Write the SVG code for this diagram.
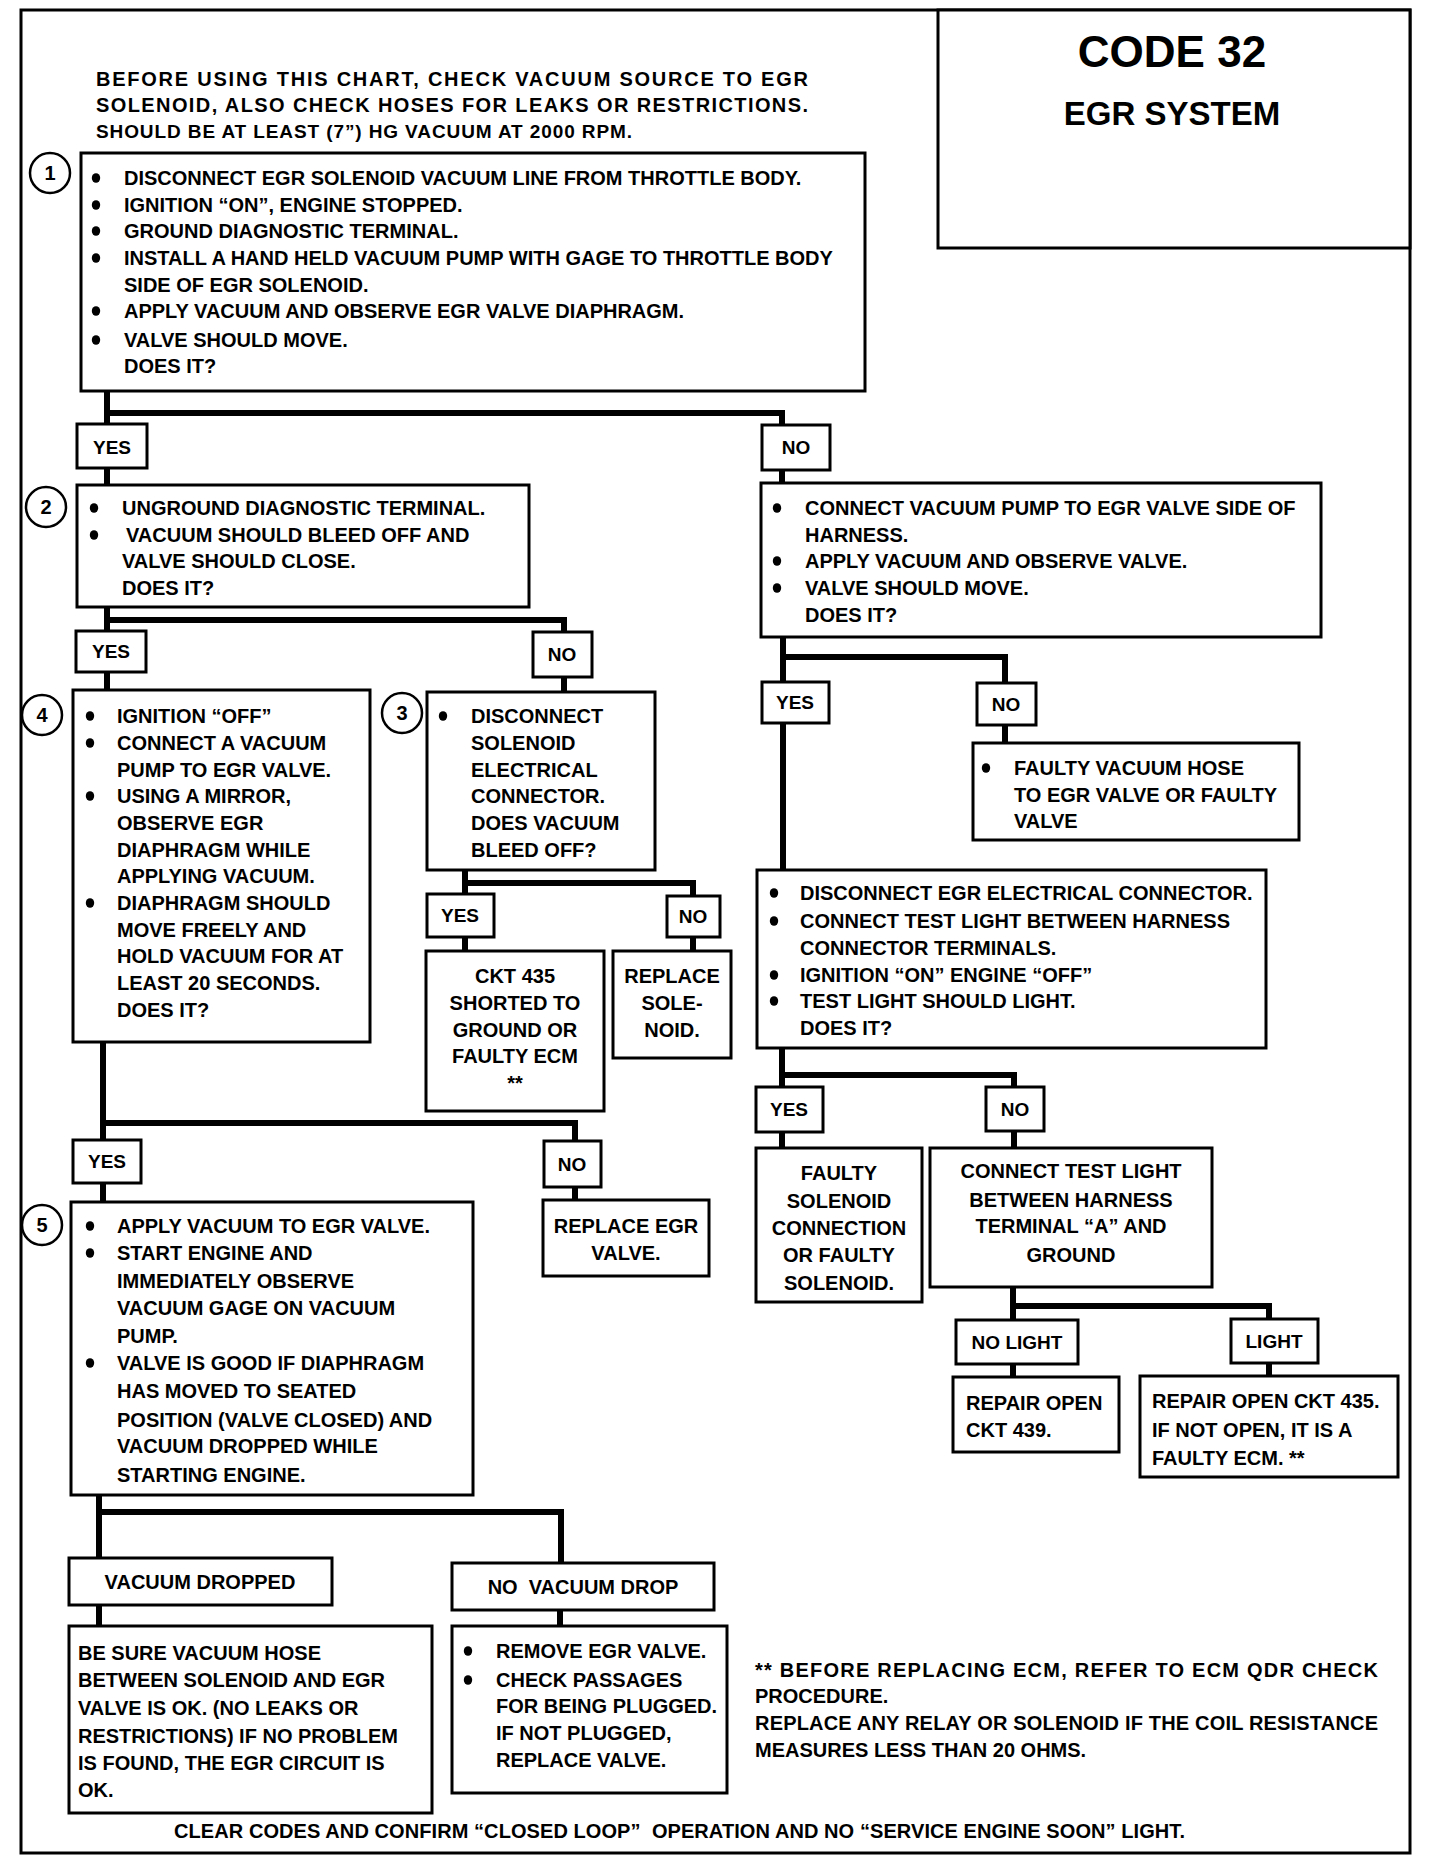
<svg xmlns="http://www.w3.org/2000/svg" width="1440" height="1872" viewBox="0 0 1440 1872">
<style>
text{font-family:"Liberation Sans",Arial,"DejaVu Sans",sans-serif;font-weight:bold;font-size:20px;fill:#000}
.c{text-anchor:middle}
.box{fill:#fff;stroke:#000;stroke-width:3}
.num{fill:#fff;stroke:#000;stroke-width:2.5}
.conn{fill:none;stroke:#000;stroke-width:6}
.lbl{font-size:19px}
</style>
<defs>
<ellipse id="b" rx="4.2" ry="4.8" fill="#000"/>
</defs>
<rect x="0" y="0" width="1440" height="1872" fill="#fff"/>
<rect x="21" y="10" width="1389" height="1843" fill="none" stroke="#000" stroke-width="3"/>

<g id="connectors">
<path class="conn" d="M107 391 V424 M107 413 H782 V425"/>
<path class="conn" d="M107 468 V485 M782 470 V483"/>
<path class="conn" d="M107 607 V631 M107 620 H564 V632"/>
<path class="conn" d="M107 672 V690 M564 677 V692"/>
<path class="conn" d="M783 637 V682 M783 657 H1005 V683"/>
<path class="conn" d="M783 723 V870 M1005 725 V743"/>
<path class="conn" d="M465 870 V894 M465 883 H693 V896"/>
<path class="conn" d="M465 937 V951 M693 937 V951"/>
<path class="conn" d="M103 1042 V1140 M103 1123 H575 V1141"/>
<path class="conn" d="M103 1183 V1202 M575 1187 V1200"/>
<path class="conn" d="M99 1495 V1558 M99 1512 H561 V1563"/>
<path class="conn" d="M99 1605 V1626 M560 1610 V1626"/>
<path class="conn" d="M782 1048 V1087 M782 1075 H1014 V1087"/>
<path class="conn" d="M782 1132 V1148 M1014 1131 V1148"/>
<path class="conn" d="M1013 1287 V1320 M1013 1306 H1269 V1319"/>
<path class="conn" d="M1013 1364 V1377 M1269 1363 V1376"/>
</g>

<g id="title">
<rect class="box" x="938" y="10" width="472" height="238"/>
<text class="c" x="1172" y="67" style="font-size:44px">CODE 32</text>
<text class="c" x="1172" y="125" style="font-size:33px">EGR SYSTEM</text>
</g>

<g id="intro">
<text x="96" y="86" textLength="712">BEFORE USING THIS CHART, CHECK VACUUM SOURCE TO EGR</text>
<text x="96" y="112" textLength="712">SOLENOID, ALSO CHECK HOSES FOR LEAKS OR RESTRICTIONS.</text>
<text x="96" y="138" style="font-size:19px" textLength="536">SHOULD BE AT LEAST (7”) HG VACUUM AT 2000 RPM.</text>
</g>

<g id="step1">
<rect class="box" x="81" y="153" width="784" height="238"/>
<circle class="num" cx="50" cy="173" r="20"/>
<text class="c" x="50" y="180">1</text>
<use href="#b" x="96" y="178"/><text x="124" y="185">DISCONNECT EGR SOLENOID VACUUM LINE FROM THROTTLE BODY.</text>
<use href="#b" x="96" y="205"/><text x="124" y="212">IGNITION “ON”, ENGINE STOPPED.</text>
<use href="#b" x="96" y="231"/><text x="124" y="238">GROUND DIAGNOSTIC TERMINAL.</text>
<use href="#b" x="96" y="258"/><text x="124" y="265">INSTALL A HAND HELD VACUUM PUMP WITH GAGE TO THROTTLE BODY</text>
<text x="124" y="292">SIDE OF EGR SOLENOID.</text>
<use href="#b" x="96" y="311"/><text x="124" y="318">APPLY VACUUM AND OBSERVE EGR VALVE DIAPHRAGM.</text>
<use href="#b" x="96" y="340"/><text x="124" y="347">VALVE SHOULD MOVE.</text>
<text x="124" y="373">DOES IT?</text>
</g>

<g id="yes1"><rect class="box" x="77" y="424" width="70" height="44"/><text class="c lbl" x="112" y="454">YES</text></g>
<g id="no1"><rect class="box" x="762" y="425" width="68" height="45"/><text class="c lbl" x="796" y="454">NO</text></g>

<g id="step2">
<rect class="box" x="77" y="485" width="452" height="122"/>
<circle class="num" cx="46" cy="507" r="20"/>
<text class="c" x="46" y="514">2</text>
<use href="#b" x="94" y="508"/><text x="122" y="515">UNGROUND DIAGNOSTIC TERMINAL.</text>
<use href="#b" x="94" y="535"/><text x="126" y="542">VACUUM SHOULD BLEED OFF AND</text>
<text x="122" y="568">VALVE SHOULD CLOSE.</text>
<text x="122" y="595">DOES IT?</text>
</g>

<g id="stepA">
<rect class="box" x="761" y="483" width="560" height="154"/>
<use href="#b" x="777" y="508"/><text x="805" y="515">CONNECT VACUUM PUMP TO EGR VALVE SIDE OF</text>
<text x="805" y="542">HARNESS.</text>
<use href="#b" x="777" y="561"/><text x="805" y="568">APPLY VACUUM AND OBSERVE VALVE.</text>
<use href="#b" x="777" y="588"/><text x="805" y="595">VALVE SHOULD MOVE.</text>
<text x="805" y="622">DOES IT?</text>
</g>

<g id="yes2"><rect class="box" x="76" y="631" width="70" height="41"/><text class="c lbl" x="111" y="658">YES</text></g>
<g id="no2"><rect class="box" x="533" y="632" width="59" height="45"/><text class="c lbl" x="562" y="661">NO</text></g>
<g id="yesA"><rect class="box" x="762" y="682" width="67" height="41"/><text class="c lbl" x="795" y="709">YES</text></g>
<g id="noA"><rect class="box" x="977" y="683" width="59" height="42"/><text class="c lbl" x="1006" y="711">NO</text></g>

<g id="step4">
<rect class="box" x="73" y="690" width="297" height="352"/>
<circle class="num" cx="42" cy="715" r="20"/>
<text class="c" x="42" y="722">4</text>
<use href="#b" x="90" y="716"/><text x="117" y="723">IGNITION “OFF”</text>
<use href="#b" x="90" y="743"/><text x="117" y="750">CONNECT A VACUUM</text>
<text x="117" y="777">PUMP TO EGR VALVE.</text>
<use href="#b" x="90" y="796"/><text x="117" y="803">USING A MIRROR,</text>
<text x="117" y="830">OBSERVE EGR</text>
<text x="117" y="857">DIAPHRAGM WHILE</text>
<text x="117" y="883">APPLYING VACUUM.</text>
<use href="#b" x="90" y="903"/><text x="117" y="910">DIAPHRAGM SHOULD</text>
<text x="117" y="937">MOVE FREELY AND</text>
<text x="117" y="963">HOLD VACUUM FOR AT</text>
<text x="117" y="990">LEAST 20 SECONDS.</text>
<text x="117" y="1017">DOES IT?</text>
</g>

<g id="step3">
<rect class="box" x="427" y="692" width="228" height="178"/>
<circle class="num" cx="402" cy="713" r="20"/>
<text class="c" x="402" y="720">3</text>
<use href="#b" x="443" y="716"/><text x="471" y="723">DISCONNECT</text>
<text x="471" y="750">SOLENOID</text>
<text x="471" y="777">ELECTRICAL</text>
<text x="471" y="803">CONNECTOR.</text>
<text x="471" y="830">DOES VACUUM</text>
<text x="471" y="857">BLEED OFF?</text>
</g>

<g id="faultyHose">
<rect class="box" x="973" y="743" width="326" height="97"/>
<use href="#b" x="986" y="768"/><text x="1014" y="775">FAULTY VACUUM HOSE</text>
<text x="1014" y="802">TO EGR VALVE OR FAULTY</text>
<text x="1014" y="828">VALVE</text>
</g>

<g id="stepB">
<rect class="box" x="757" y="870" width="509" height="178"/>
<use href="#b" x="774" y="893"/><text x="800" y="900">DISCONNECT EGR ELECTRICAL CONNECTOR.</text>
<use href="#b" x="774" y="921"/><text x="800" y="928">CONNECT TEST LIGHT BETWEEN HARNESS</text>
<text x="800" y="955">CONNECTOR TERMINALS.</text>
<use href="#b" x="774" y="975"/><text x="800" y="982">IGNITION “ON” ENGINE “OFF”</text>
<use href="#b" x="774" y="1001"/><text x="800" y="1008">TEST LIGHT SHOULD LIGHT.</text>
<text x="800" y="1035">DOES IT?</text>
</g>

<g id="yes3"><rect class="box" x="427" y="894" width="67" height="43"/><text class="c lbl" x="460" y="922">YES</text></g>
<g id="no3"><rect class="box" x="667" y="896" width="53" height="41"/><text class="c lbl" x="693" y="923">NO</text></g>

<g id="ckt435">
<rect class="box" x="426" y="951" width="178" height="160"/>
<text class="c" x="515" y="983">CKT 435</text>
<text class="c" x="515" y="1010">SHORTED TO</text>
<text class="c" x="515" y="1037">GROUND OR</text>
<text class="c" x="515" y="1063">FAULTY ECM</text>
<text class="c" x="515" y="1090">**</text>
</g>

<g id="replaceSolenoid">
<rect class="box" x="613" y="951" width="118" height="107"/>
<text class="c" x="672" y="983">REPLACE</text>
<text class="c" x="672" y="1010">SOLE-</text>
<text class="c" x="672" y="1037">NOID.</text>
</g>

<g id="yesB"><rect class="box" x="756" y="1087" width="67" height="45"/><text class="c lbl" x="789" y="1116">YES</text></g>
<g id="noB"><rect class="box" x="986" y="1087" width="58" height="44"/><text class="c lbl" x="1015" y="1116">NO</text></g>

<g id="yes4"><rect class="box" x="73" y="1140" width="68" height="43"/><text class="c lbl" x="107" y="1168">YES</text></g>
<g id="no4"><rect class="box" x="544" y="1141" width="57" height="46"/><text class="c lbl" x="572" y="1171">NO</text></g>

<g id="faultySolenoid">
<rect class="box" x="756" y="1148" width="166" height="154"/>
<text class="c" x="839" y="1180">FAULTY</text>
<text class="c" x="839" y="1208">SOLENOID</text>
<text class="c" x="839" y="1235">CONNECTION</text>
<text class="c" x="839" y="1262">OR FAULTY</text>
<text class="c" x="839" y="1290">SOLENOID.</text>
</g>

<g id="connectTest">
<rect class="box" x="930" y="1148" width="282" height="139"/>
<text class="c" x="1071" y="1178">CONNECT TEST LIGHT</text>
<text class="c" x="1071" y="1207">BETWEEN HARNESS</text>
<text class="c" x="1071" y="1233">TERMINAL “A” AND</text>
<text class="c" x="1071" y="1262">GROUND</text>
</g>

<g id="step5">
<rect class="box" x="71" y="1202" width="402" height="293"/>
<circle class="num" cx="42" cy="1225" r="20"/>
<text class="c" x="42" y="1232">5</text>
<use href="#b" x="90" y="1226"/><text x="117" y="1233">APPLY VACUUM TO EGR VALVE.</text>
<use href="#b" x="90" y="1253"/><text x="117" y="1260">START ENGINE AND</text>
<text x="117" y="1288">IMMEDIATELY OBSERVE</text>
<text x="117" y="1315">VACUUM GAGE ON VACUUM</text>
<text x="117" y="1343">PUMP.</text>
<use href="#b" x="90" y="1363"/><text x="117" y="1370">VALVE IS GOOD IF DIAPHRAGM</text>
<text x="117" y="1398">HAS MOVED TO SEATED</text>
<text x="117" y="1427">POSITION (VALVE CLOSED) AND</text>
<text x="117" y="1453">VACUUM DROPPED WHILE</text>
<text x="117" y="1482">STARTING ENGINE.</text>
</g>

<g id="replaceEGR">
<rect class="box" x="543" y="1200" width="166" height="76"/>
<text class="c" x="626" y="1233">REPLACE EGR</text>
<text class="c" x="626" y="1260">VALVE.</text>
</g>

<g id="noLight"><rect class="box" x="956" y="1320" width="122" height="44"/><text class="c lbl" x="1017" y="1349">NO LIGHT</text></g>
<g id="light"><rect class="box" x="1231" y="1319" width="87" height="44"/><text class="c lbl" x="1274" y="1348">LIGHT</text></g>

<g id="repair439">
<rect class="box" x="953" y="1377" width="166" height="75"/>
<text x="966" y="1410">REPAIR OPEN</text>
<text x="966" y="1437">CKT 439.</text>
</g>

<g id="repair435">
<rect class="box" x="1140" y="1376" width="258" height="101"/>
<text x="1152" y="1408">REPAIR OPEN CKT 435.</text>
<text x="1152" y="1437">IF NOT OPEN, IT IS A</text>
<text x="1152" y="1465">FAULTY ECM. **</text>
</g>

<g id="vacDropped"><rect class="box" x="69" y="1558" width="263" height="47"/><text class="c" x="200" y="1589">VACUUM DROPPED</text></g>
<g id="noVacDrop"><rect class="box" x="452" y="1563" width="262" height="47"/><text class="c" x="583" y="1594" xml:space="preserve">NO  VACUUM DROP</text></g>

<g id="beSure">
<rect class="box" x="69" y="1626" width="363" height="187"/>
<text x="78" y="1660">BE SURE VACUUM HOSE</text>
<text x="78" y="1687">BETWEEN SOLENOID AND EGR</text>
<text x="78" y="1715">VALVE IS OK. (NO LEAKS OR</text>
<text x="78" y="1743">RESTRICTIONS) IF NO PROBLEM</text>
<text x="78" y="1770">IS FOUND, THE EGR CIRCUIT IS</text>
<text x="78" y="1797">OK.</text>
</g>

<g id="removeValve">
<rect class="box" x="452" y="1626" width="275" height="167"/>
<use href="#b" x="468" y="1651"/><text x="496" y="1658">REMOVE EGR VALVE.</text>
<use href="#b" x="468" y="1680"/><text x="496" y="1687">CHECK PASSAGES</text>
<text x="496" y="1713">FOR BEING PLUGGED.</text>
<text x="496" y="1740">IF NOT PLUGGED,</text>
<text x="496" y="1767">REPLACE  VALVE.</text>
</g>

<g id="footnote">
<text x="755" y="1677" textLength="623">** BEFORE REPLACING ECM, REFER TO ECM QDR CHECK</text>
<text x="755" y="1703">PROCEDURE.</text>
<text x="755" y="1730" textLength="623">REPLACE ANY RELAY OR SOLENOID IF THE COIL RESISTANCE</text>
<text x="755" y="1757">MEASURES LESS THAN 20 OHMS.</text>
</g>

<g id="closing">
<text x="174" y="1838" textLength="1011" xml:space="preserve">CLEAR CODES AND CONFIRM “CLOSED LOOP”  OPERATION AND NO “SERVICE ENGINE SOON” LIGHT.</text>
</g>
</svg>
